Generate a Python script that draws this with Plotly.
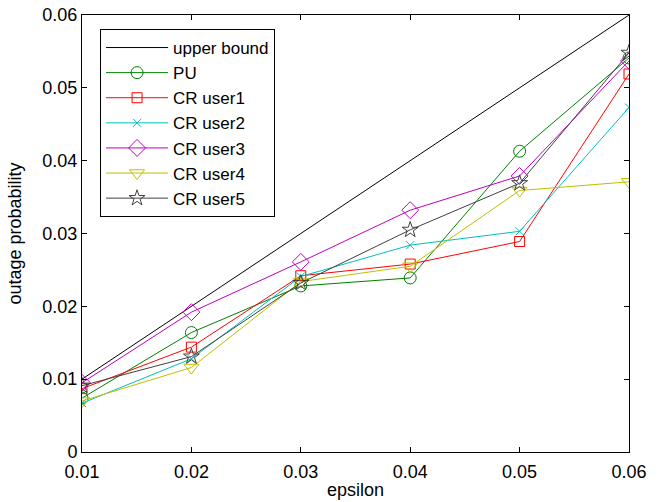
import plotly.graph_objects as go

epsilon = [0.01, 0.02, 0.03, 0.04, 0.05, 0.06]
upper_bound = [0.01, 0.02, 0.03, 0.04, 0.05, 0.06]
pu = [0.0074, 0.0164, 0.0228, 0.0239, 0.0413, 0.0541]
cr_user1 = [0.0087, 0.0144, 0.0242, 0.0258, 0.0289, 0.0519]
cr_user2 = [0.0067, 0.0128, 0.0241, 0.0284, 0.0303, 0.0473]
cr_user3 = [0.0095, 0.0192, 0.0261, 0.0332, 0.0379, 0.0537]
cr_user4 = [0.0070, 0.0116, 0.0234, 0.0255, 0.0359, 0.0371]
cr_user5 = [0.0091, 0.0131, 0.0232, 0.0305, 0.0369, 0.0548]

x_ticks = [0.01, 0.02, 0.03, 0.04, 0.05, 0.06]
x_tick_labels = ["0.01", "0.02", "0.03", "0.04", "0.05", "0.06"]
y_ticks = [0, 0.01, 0.02, 0.03, 0.04, 0.05, 0.06]
y_tick_labels = ["0", "0.01", "0.02", "0.03", "0.04", "0.05", "0.06"]

FONT = "Liberation Sans, Arial, Helvetica"

fig = go.Figure()
fig.add_trace(go.Scatter(x=epsilon, y=upper_bound, mode="lines", name="upper bound",
                         line=dict(color="black", width=1)))
series = [
    ("PU", pu, "#008000", "circle-open", 12),
    ("CR user1", cr_user1, "#ff0000", "square-open", 10),
    ("CR user2", cr_user2, "#00bfbf", "x-thin-open", 8),
    ("CR user3", cr_user3, "#bf00bf", "diamond-open", 13),
    ("CR user4", cr_user4, "#bfbf00", "triangle-down-open", 13),
    ("CR user5", cr_user5, "#404040", "star-open", 12),
]
for name, vals, color, sym, size in series:
    fig.add_trace(go.Scatter(x=epsilon, y=vals, mode="lines+markers", name=name,
                             line=dict(color=color, width=1),
                             marker=dict(symbol=sym, size=size, color=color,
                                         line=dict(color=color, width=1))))

axis_common = dict(showline=True, linecolor="black", linewidth=1, mirror="ticks",
                   ticks="inside", ticklen=5, tickcolor="black", showgrid=False,
                   zeroline=False, automargin=False, ticklabeloverflow="allow",
                   tickfont=dict(family=FONT, size=18, color="black"))
fig.update_xaxes(range=[0.01, 0.06], tickvals=x_ticks, ticktext=x_tick_labels,
                 ticklabelstandoff=3,
                 title=dict(text="epsilon", standoff=2,
                            font=dict(family=FONT, size=18, color="black")),
                 **axis_common)
fig.update_yaxes(range=[0, 0.06], tickvals=y_ticks, ticktext=y_tick_labels,
                 title=dict(text="outage probability", standoff=16,
                            font=dict(family=FONT, size=18, color="black")),
                 **axis_common)
fig.update_layout(
    width=660, height=502,
    margin=dict(l=82, r=31, t=15, b=50),
    plot_bgcolor="white", paper_bgcolor="white",
    legend=dict(x=0.033, y=0.968, xanchor="left", yanchor="top",
                bgcolor="white", bordercolor="black", borderwidth=1,
                font=dict(family=FONT, size=17, color="black"),
                tracegroupgap=0, itemwidth=62),
)
fig.write_html("out.html", config={"displayModeBar": False},
               post_script="document.body.style.margin='0';document.body.style.overflow='hidden';")
